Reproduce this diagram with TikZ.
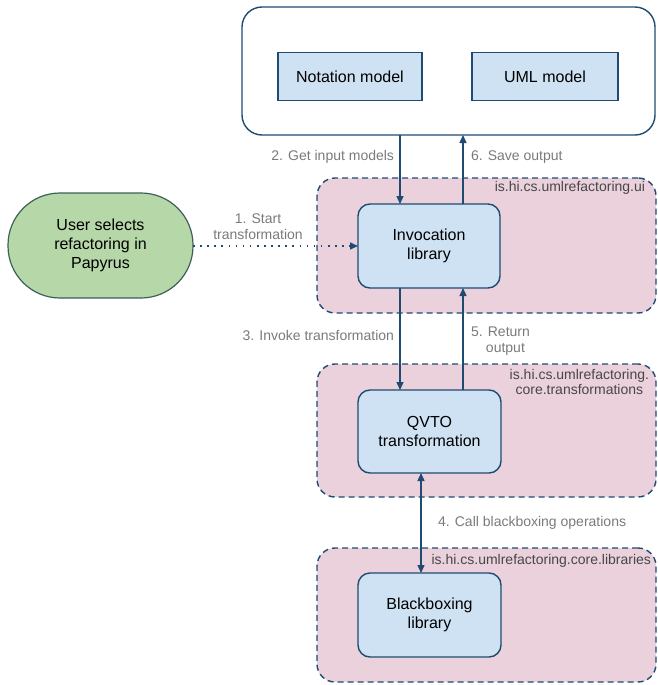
\documentclass[tikz,border=0pt]{standalone}
\usepackage{fontspec}
\setmainfont{Liberation Sans}
\usetikzlibrary{arrows.meta,positioning}
\definecolor{boxblue}{HTML}{CFE2F3}
\definecolor{edgeblue}{HTML}{1F4B73}
\definecolor{pinkbg}{HTML}{EAD1DC}
\definecolor{greenbg}{HTML}{B6D7A8}
\definecolor{greenedge}{HTML}{3E5F5A}
\definecolor{lblgray}{HTML}{7A7A7A}
\begin{document}
\begin{tikzpicture}[x=1pt,y=-1pt,
  every node/.style={inner sep=0pt,outer sep=0pt},
  container/.style={draw=edgeblue,line width=1.4pt,rounded corners=20pt,fill=white},
  pkg/.style={draw=edgeblue,line width=1.4pt,dashed,dash pattern=on 6pt off 4pt,rounded corners=18pt,fill=pinkbg},
  model/.style={draw=edgeblue,line width=1.2pt,fill=boxblue,font=\fontsize{16}{19}\selectfont},
  comp/.style={draw=edgeblue,line width=1.4pt,fill=boxblue,rounded corners=12pt,align=center,font=\fontsize{16}{19}\selectfont},
  lbl/.style={text=lblgray,font=\fontsize{14}{16}\selectfont,align=center},
  pkglbl/.style={text=black!72,font=\fontsize{14}{15.5}\selectfont,align=right},
  arr/.style={draw=edgeblue,line width=1.4pt,-{Triangle[length=8pt,width=7pt]}},
]
\useasboundingbox (0,0) rectangle (657,685);
% containers
\node[container,minimum width=413pt,minimum height=128pt] (top) at (448.5,71) {};
\node[model,minimum width=144pt,minimum height=48pt] (notation) at (350,76.5) {Notation model};
\node[model,minimum width=146pt,minimum height=48pt] (uml) at (545,76.5) {UML model};

\node[pkg,minimum width=339pt,minimum height=135pt] (pkgui) at (486.5,245.5) {};
\node[pkg,minimum width=339pt,minimum height=133pt] (pkgtr) at (486.5,430.5) {};
\node[pkg,minimum width=339pt,minimum height=134pt] (pkglib) at (486.5,615) {};

\node[pkglbl,anchor=north east] (lblui) at (645,181) {is.hi.cs.umlrefactoring.ui};
\node[pkglbl,align=center,anchor=north east] (lbltr) at (649,369) {is.hi.cs.umlrefactoring.\\core.transformations};
\node[pkglbl,anchor=north east] (lbllib) at (651,554) {is.hi.cs.umlrefactoring.core.libraries};

% components
\node[comp,minimum width=142pt,minimum height=84pt] (inv) at (429,246) {Invocation\\library};
\node[comp,minimum width=143pt,minimum height=83pt] (qvto) at (429.5,431.5) {QVTO\\transformation};
\node[comp,minimum width=143pt,minimum height=84pt] (bb) at (429.5,615) {Blackboxing\\library};

\node[draw=greenedge,line width=1.2pt,fill=greenbg,rounded corners=52pt,minimum width=185pt,minimum height=105pt,align=center,font=\fontsize{16}{19}\selectfont] (user) at (100.5,245.5) {User selects\\refactoring in\\Papyrus};

% x positions
\coordinate (xa) at (400,0);
\coordinate (xb) at (463,0);
\coordinate (xc) at (421,0);

% arrows
\draw[arr] (top.south -| xa) -- (inv.north -| xa);
\draw[arr] (inv.north -| xb) -- (top.south -| xb);
\draw[arr] (inv.south -| xa) -- (qvto.north -| xa);
\draw[arr] (qvto.north -| xb) -- (inv.south -| xb);
\draw[arr,{Triangle[length=8pt,width=7pt]}-{Triangle[length=8pt,width=7pt]}] (qvto.south -| xc) -- (bb.north -| xc);
\draw[draw=edgeblue,line width=1.6pt,dash pattern=on 1.6pt off 5.5pt,-{Triangle[length=8pt,width=7pt]}] (user.east |- inv.west) -- (inv.west);

% labels
\node[lbl,anchor=east] (l2) at (394,157) {2. Get input models};
\node[lbl,anchor=west] (l6) at (471,157) {6. Save output};
\node[lbl] (l1) at (258,227) {1. Start\\transformation};
\node[lbl,anchor=east] (l3) at (394,335) {3. Invoke transformation};
\node[lbl,anchor=west] (l5) at (471,341) {5. Return\\\hspace*{10pt}output};
\node[lbl,anchor=west] (l4) at (438,523) {4. Call blackboxing operations};
\end{tikzpicture}
\end{document}
